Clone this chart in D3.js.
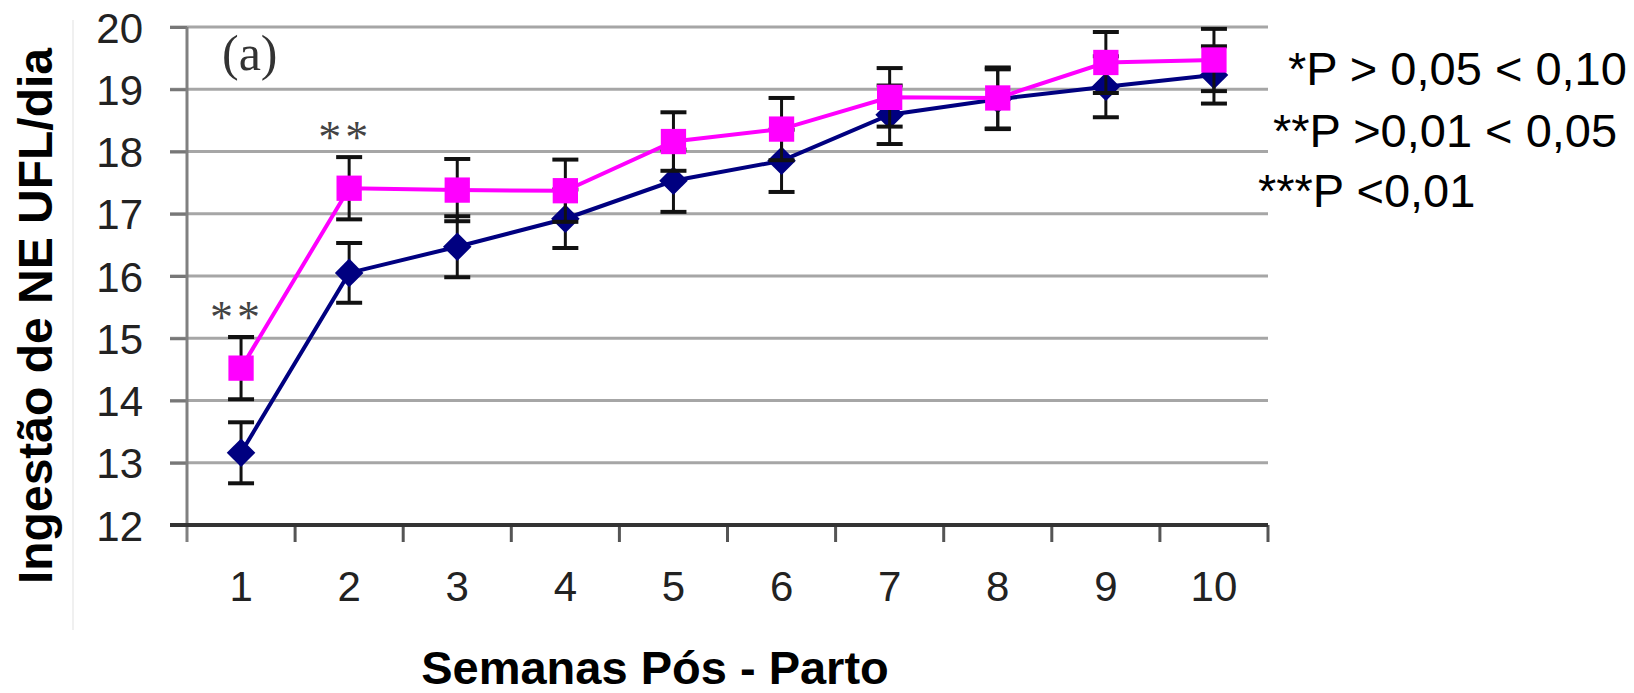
<!DOCTYPE html>
<html>
<head>
<meta charset="utf-8">
<script src="https://cdn.jsdelivr.net/npm/d3@7"></script>
<style>
  body { margin: 0; background: #fff; }
  svg { display: block; }
</style>
</head>
<body>
<svg id="chart"></svg>
<script>
// data
const weeks = [1, 2, 3, 4, 5, 6, 7, 8, 9, 10];
const pinkMean = [14.52, 17.41, 17.38, 17.37, 18.16, 18.36, 18.87, 18.86, 19.43, 19.47];
const pinkErr = [0.5, 0.5, 0.5, 0.5, 0.47, 0.5, 0.47, 0.49, 0.49, 0.5];
const navyMean = [13.16, 16.05, 16.47, 16.92, 17.53, 17.85, 18.59, 18.84, 19.04, 19.23];
const navyErr = [0.49, 0.48, 0.49, 0.47, 0.5, 0.5, 0.47, 0.48, 0.49, 0.46];
const yTicks = [12, 13, 14, 15, 16, 17, 18, 19, 20];
const stars = [{ week: 1, text: "**" }, { week: 2, text: "**" }];
const notes = ["*P > 0,05 < 0,10", "**P >0,01 < 0,05", "***P <0,01"];

const W = 1634, H = 693;
const margin = { top: 27, right: 366, bottom: 168, left: 187 };
const width = W - margin.left - margin.right;
const height = H - margin.top - margin.bottom;

const svg = d3.select("#chart").attr("width", W).attr("height", H);

const g = svg.append("g")
    .attr("transform", `translate(${margin.left},${margin.top})`);

const x = d3.scaleBand().domain(weeks).range([0, width]);
const cx = d => x(d) + x.bandwidth() / 2;
const y = d3.scaleLinear().domain([12, 20]).range([height, 0]);

// faint chart-area border on the left
svg.append("line")
    .attr("x1", 73).attr("x2", 73).attr("y1", 20).attr("y2", 630)
    .attr("stroke", "#f0f0f0").attr("stroke-width", 2);

// gridlines
g.selectAll(".grid")
    .data(yTicks.filter(v => v > 12))
    .join("line")
    .attr("class", "grid")
    .attr("x1", -17).attr("x2", width)
    .attr("y1", d => y(d)).attr("y2", d => y(d))
    .attr("stroke", "#a6a6a6")
    .attr("stroke-width", 3);

// y axis
const yAxis = g.append("g")
    .call(d3.axisLeft(y).tickValues(yTicks).tickSize(17).tickPadding(27).tickSizeOuter(0));
yAxis.select(".domain").remove();
yAxis.selectAll("line").attr("stroke", "#777").attr("stroke-width", 3);
yAxis.selectAll("text")
    .attr("font-family", "Liberation Sans, Arial, sans-serif")
    .attr("font-size", 42)
    .attr("fill", "#222")
    .attr("dy", "0.36em");

g.append("line")
    .attr("x1", 0).attr("x2", 0).attr("y1", 0).attr("y2", height + 17)
    .attr("stroke", "#808080").attr("stroke-width", 3);

// x axis: tick marks on band edges, labels at centres
const edges = weeks.map(w => x(w) + x.bandwidth());
g.selectAll(".xtick")
    .data(edges)
    .join("line")
    .attr("class", "xtick")
    .attr("x1", d => d).attr("x2", d => d)
    .attr("y1", height).attr("y2", height + 17)
    .attr("stroke", "#555").attr("stroke-width", 3);

g.append("line")
    .attr("x1", -17).attr("x2", width)
    .attr("y1", height).attr("y2", height)
    .attr("stroke", "#333").attr("stroke-width", 4);

const xAxis = g.append("g")
    .attr("transform", `translate(0,${height})`)
    .call(d3.axisBottom(x).tickSize(0).tickPadding(46));
xAxis.select(".domain").remove();
xAxis.selectAll("text")
    .attr("font-family", "Liberation Sans, Arial, sans-serif")
    .attr("font-size", 42)
    .attr("fill", "#222");

// series
function drawSeries(mean, err, color, shape) {
    const pts = weeks.map((w, i) => ({ w, v: mean[i], e: err[i] }));
    g.append("path")
        .datum(pts)
        .attr("fill", "none")
        .attr("stroke", color)
        .attr("stroke-width", 4)
        .attr("d", d3.line().x(d => cx(d.w)).y(d => y(d.v)));

    const eb = g.append("g");
    eb.selectAll(".bar")
        .data(pts)
        .join("line")
        .attr("x1", d => cx(d.w)).attr("x2", d => cx(d.w))
        .attr("y1", d => y(d.v - d.e)).attr("y2", d => y(d.v + d.e))
        .attr("stroke", "#111").attr("stroke-width", 3);
    eb.selectAll(".cap")
        .data(pts.flatMap(d => [d.v - d.e, d.v + d.e].map(v => ({ w: d.w, v }))))
        .join("line")
        .attr("x1", d => cx(d.w) - 13).attr("x2", d => cx(d.w) + 13)
        .attr("y1", d => y(d.v)).attr("y2", d => y(d.v))
        .attr("stroke", "#111").attr("stroke-width", 4);

    g.append("g").selectAll("path")
        .data(pts)
        .join("path")
        .attr("transform", d => `translate(${cx(d.w)},${y(d.v)})`)
        .attr("d", d3.symbol().type(shape).size(shape === d3.symbolSquare ? 640 : 520))
        .attr("fill", color);
}

drawSeries(navyMean, navyErr, "#000080", d3.symbolDiamond2);
drawSeries(pinkMean, pinkErr, "#ff00ff", d3.symbolSquare);

// significance marks
g.selectAll(".star")
    .data(stars)
    .join("text")
    .attr("class", "star")
    .attr("x", d => cx(d.week) - 4)
    .attr("y", d => {
        const i = weeks.indexOf(d.week);
        return y(pinkMean[i] + pinkErr[i]) - 4;
    })
    .attr("text-anchor", "middle")
    .attr("font-family", "Liberation Serif, Times New Roman, serif")
    .attr("font-size", 46)
    .attr("letter-spacing", 4)
    .attr("fill", "#444")
    .text(d => d.text);

// panel label
svg.append("text")
    .attr("x", 222).attr("y", 70)
    .attr("font-family", "Liberation Serif, Times New Roman, serif")
    .attr("font-size", 50)
    .attr("fill", "#333")
    .text("(a)");

// p-value notes
const noteX = [1288, 1273, 1258];
const noteY = [85, 147, 207];
svg.selectAll(".note")
    .data(notes)
    .join("text")
    .attr("class", "note")
    .attr("x", (d, i) => noteX[i])
    .attr("y", (d, i) => noteY[i])
    .attr("font-family", "Liberation Sans, Arial, sans-serif")
    .attr("font-size", 47)
    .attr("fill", "#000")
    .text(d => d);

// axis titles
svg.append("text")
    .attr("x", 655).attr("y", 684)
    .attr("text-anchor", "middle")
    .attr("font-family", "Liberation Sans, Arial, sans-serif")
    .attr("font-weight", "bold")
    .attr("font-size", 47)
    .text("Semanas Pós - Parto");

svg.append("text")
    .attr("transform", "translate(52,316) rotate(-90)")
    .attr("text-anchor", "middle")
    .attr("font-family", "Liberation Sans, Arial, sans-serif")
    .attr("font-weight", "bold")
    .attr("font-size", 48)
    .text("Ingestão de NE UFL/dia");
</script>
</body>
</html>
